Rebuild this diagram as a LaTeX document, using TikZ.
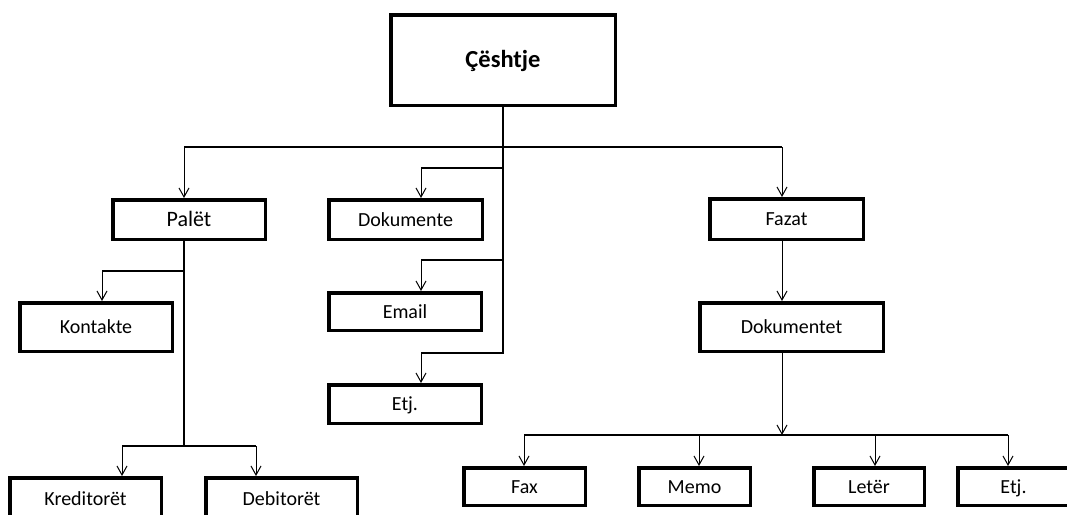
\documentclass[tikz,border=0pt]{standalone}
\usepackage{fontspec}
\setmainfont{Carlito}
\usetikzlibrary{arrows.meta}
\begin{document}
\begin{tikzpicture}[x=1pt,y=1pt,
  bx/.style={draw, line width=3.5pt, inner sep=0pt, text height=13pt, text depth=0pt, font=\fontsize{20}{24}\selectfont},
  bar/.style={line width=2pt},
  arr/.style={line width=1pt, -{Straight Barb[length=9pt,width=10pt,line width=1pt]}}]
\useasboundingbox (0,0) rectangle (1067,-514);
% nodes
\node[bx, minimum width=224.5pt, minimum height=90.5pt, text height=15.8pt, font=\fontsize{24.5}{28}\selectfont\bfseries] (root) at (503,-60) {Çështje};
\node[bx, minimum width=152.5pt, minimum height=39.5pt, text height=14.2pt, font=\fontsize{22}{26}\selectfont] (pal) at (189,-219.5) {Palët};
\node[bx, minimum width=153.5pt, minimum height=39.5pt] (dok) at (405.5,-219.5) {Dokumente};
\node[bx, minimum width=153.5pt, minimum height=40.5pt] (faz) at (786.5,-219) {Fazat};
\node[bx, minimum width=152.5pt, minimum height=37.5pt] (email) at (405,-311.5) {Email};
\node[bx, minimum width=152.5pt, minimum height=38.5pt] (etja) at (405,-404) {Etj.};
\node[bx, minimum width=152.5pt, minimum height=48.5pt] (kon) at (96,-327) {Kontakte};
\node[bx, minimum width=151.5pt, minimum height=41.5pt] (kre) at (85.5,-498.5) {Kreditorët};
\node[bx, minimum width=151.5pt, minimum height=41.5pt] (deb) at (281.5,-498.5) {Debitorët};
\node[bx, minimum width=183.5pt, minimum height=48.5pt] (doks) at (791.5,-327) {Dokumentet};
\node[bx, minimum width=121.5pt, minimum height=37.5pt] (fax) at (524.5,-486.5) {Fax};
\node[bx, minimum width=111.5pt, minimum height=37.5pt] (memo) at (694.5,-486.5) {Memo};
\node[bx, minimum width=110.5pt, minimum height=37.5pt] (leter) at (869,-486.5) {Letër};
\node[bx, minimum width=111.5pt, minimum height=37.5pt] (etjb) at (1013.5,-486.5) {Etj.};
% junction coordinates
\coordinate (jPal) at (184,-147);
\coordinate (jFaz) at (782,-147);
\coordinate (jDok) at (421,-168);
\coordinate (jEm) at (421,-260);
\coordinate (jEt) at (421,-353);
\coordinate (jKon) at (102,-271);
\coordinate (jKre) at (122,-446);
\coordinate (jDeb) at (256,-446);
\coordinate (jPalB) at (184,-446);
\coordinate (jFax) at (524,-435);
\coordinate (jMemo) at (699,-435);
\coordinate (jLet) at (875,-435);
\coordinate (jEtj) at (1008,-435);
\coordinate (jBus) at (782,-435);
% thick trunks and bars
\draw[bar] (root.south) -- (root.south |- jEt) -- (jEt);
\draw[bar] (jPal) -- (jFaz);
\draw[bar] (root.south |- jDok) -- (jDok);
\draw[bar] (root.south |- jEm) -- (jEm);
\draw[bar] (jPal |- pal.south) -- (jPalB);
\draw[bar] (jPal |- jKon) -- (jKon);
\draw[bar] (jKre) -- (jDeb);
\draw[bar] (jFax) -- (jEtj);
% thin arrows
\draw[arr] (jPal) -- (jPal |- pal.north);
\draw[arr] (jDok) -- (jDok |- dok.north);
\draw[arr] (jEm) -- (jEm |- email.north);
\draw[arr] (jEt) -- (jEt |- etja.north);
\draw[arr] (jFaz) -- (jFaz |- faz.north);
\draw[arr] (jKon) -- (jKon |- kon.north);
\draw[arr] (jKre) -- (jKre |- kre.north);
\draw[arr] (jDeb) -- (jDeb |- deb.north);
\draw[arr] (jFaz |- faz.south) -- (jFaz |- doks.north);
\draw[arr] (jBus |- doks.south) -- (jBus);
\draw[arr] (jFax) -- (jFax |- fax.north);
\draw[arr] (jMemo) -- (jMemo |- memo.north);
\draw[arr] (jLet) -- (jLet |- leter.north);
\draw[arr] (jEtj) -- (jEtj |- etjb.north);
\end{tikzpicture}
\end{document}
